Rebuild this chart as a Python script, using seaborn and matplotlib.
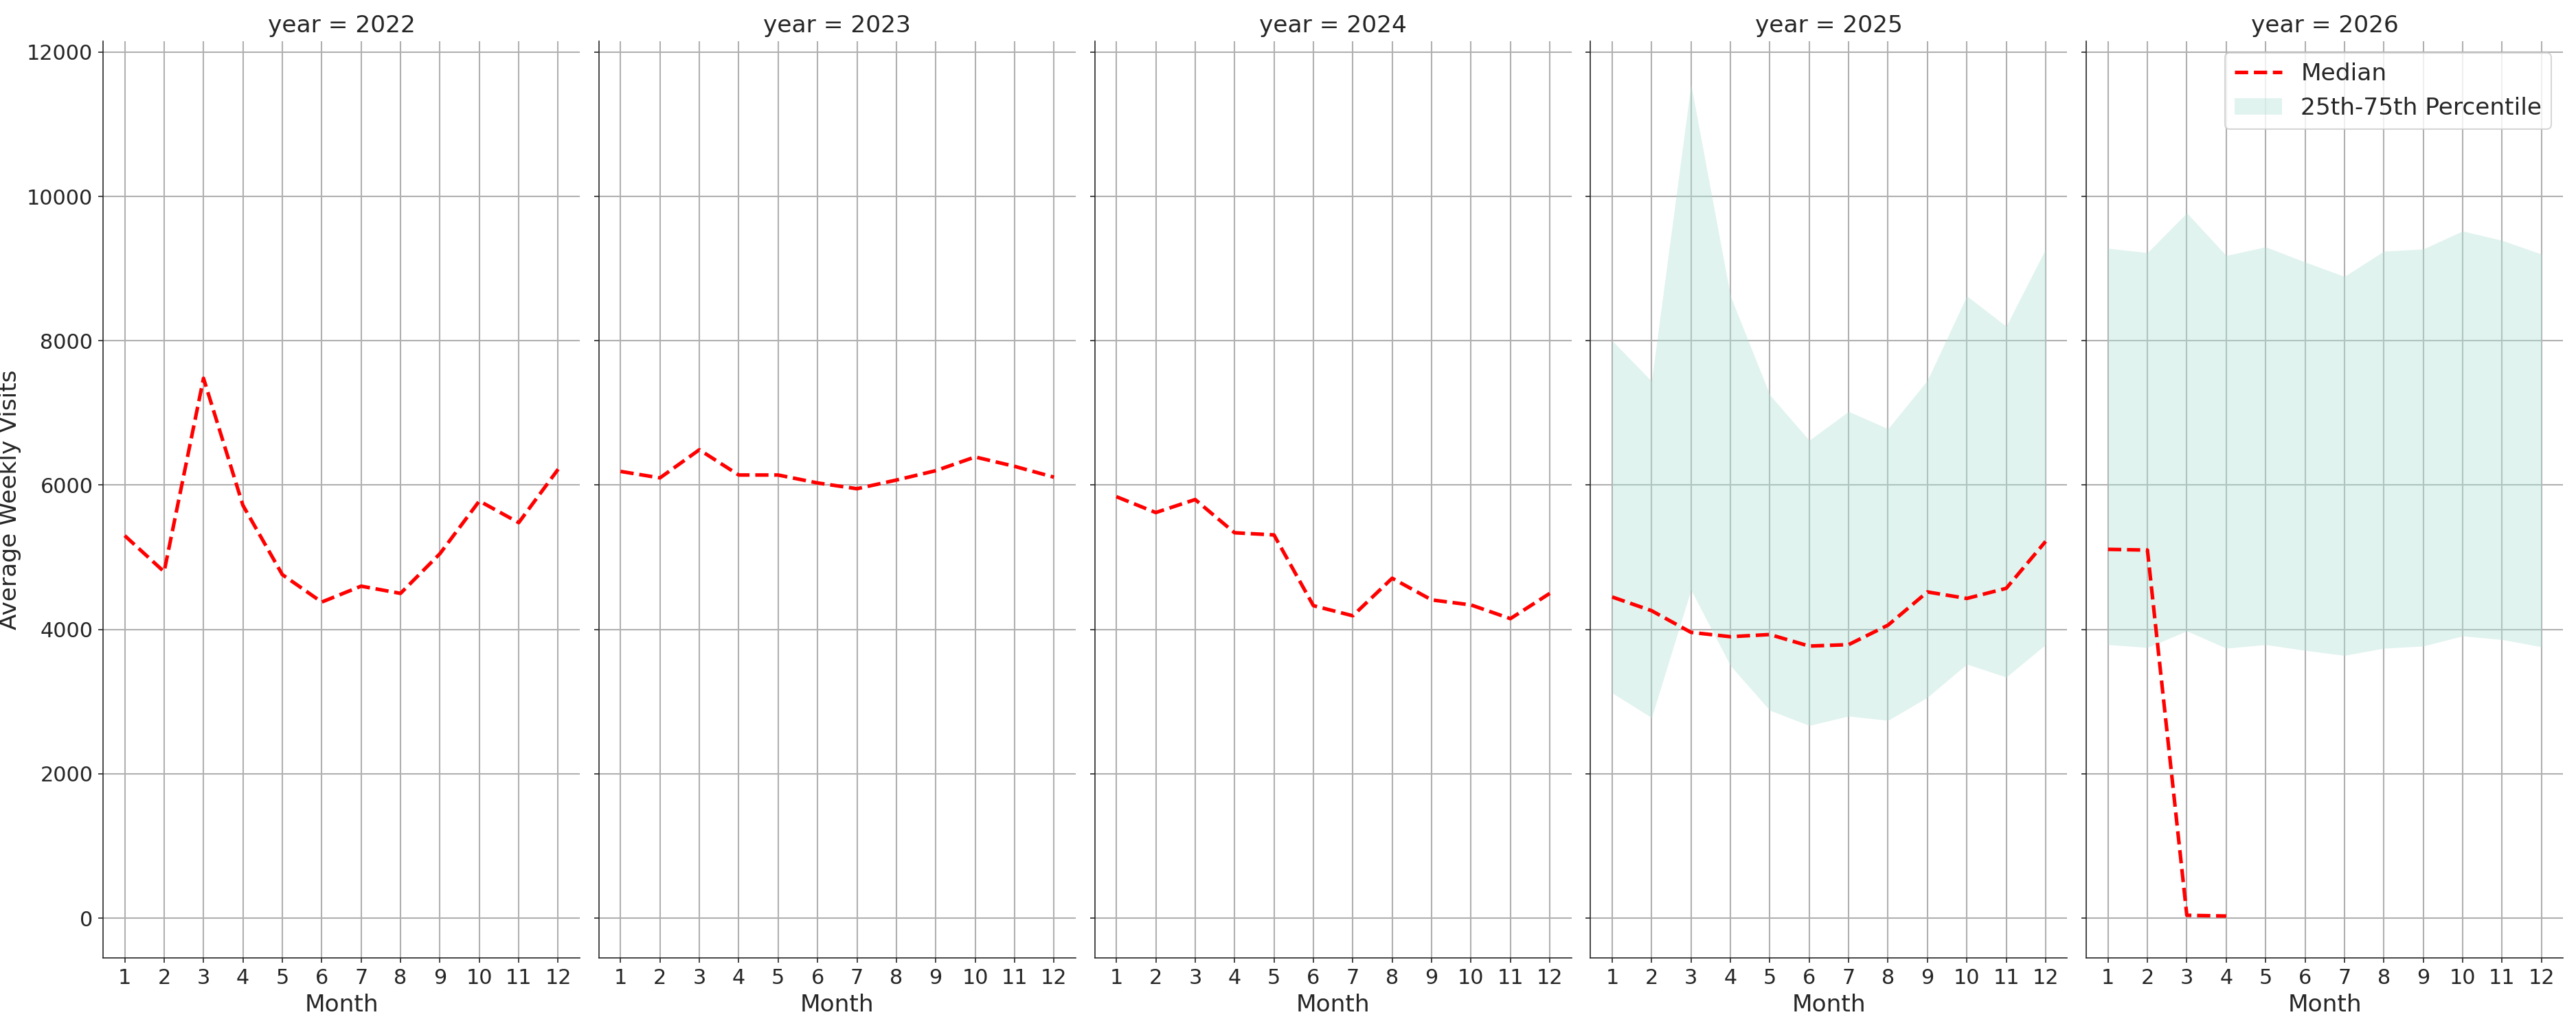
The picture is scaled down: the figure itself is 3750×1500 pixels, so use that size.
import matplotlib
matplotlib.use("Agg")
import matplotlib.pyplot as plt
import seaborn as sns
import numpy as np

months = list(range(1, 13))
years = [2022, 2023, 2024, 2025, 2026]
median = {
    2022: [5300, 4800, 7480, 5720, 4760, 4380, 4600, 4500, 5050, 5780, 5480, 6220],
    2023: [6190, 6100, 6490, 6140, 6140, 6030, 5950, 6070, 6200, 6390, 6260, 6110],
    2024: [5840, 5620, 5800, 5340, 5310, 4330, 4190, 4710, 4410, 4340, 4150, 4500],
    2025: [4450, 4260, 3960, 3900, 3930, 3770, 3790, 4060, 4520, 4430, 4570, 5220],
    2026: [5110, 5100, 40, 30],
}
p75 = {
    2025: [8000, 7440, 11550, 8620, 7250, 6620, 7020, 6780, 7450, 8620, 8200, 9270],
    2026: [9280, 9220, 9770, 9180, 9300, 9090, 8890, 9240, 9270, 9520, 9390, 9200],
}
p25 = {
    2025: [3120, 2780, 4550, 3500, 2880, 2670, 2800, 2740, 3060, 3520, 3340, 3790],
    2026: [3790, 3750, 3980, 3740, 3790, 3710, 3640, 3740, 3770, 3910, 3860, 3760],
}

sns.set_style("ticks")
fig, axes = plt.subplots(1, 5, figsize=(25, 10), dpi=150, sharey=True)
for ax, y in zip(axes, years):
    if y in p75:
        ax.fill_between(months, p25[y], p75[y], color="#b2e2d6", alpha=0.4,
                        linewidth=0, label="25th-75th Percentile")
    med = median[y]
    sns.lineplot(x=months[:len(med)], y=med, ax=ax, color="red", linestyle="--",
                 linewidth=2.5, label="Median")
    ax.set_title(f"year = {y}", fontsize=16.5)
    ax.set_xlabel("Month", fontsize=16.5)
    ax.set_xticks(months)
    ax.set_xlim(0.45, 12.55)
    ax.set_ylim(-550, 12150)
    ax.grid(True, color="#b0b0b0", linewidth=1)
    ax.tick_params(labelsize=14.5)
    for s in ["top", "right"]:
        ax.spines[s].set_visible(False)
    if y != 2026:
        ax.get_legend().remove()
axes[0].set_ylabel("Average Weekly Visits", fontsize=16.5)
h, l = axes[4].get_legend_handles_labels()
order = [l.index("Median"), l.index("25th-75th Percentile")]
axes[4].legend([h[i] for i in order], [l[i] for i in order], loc="upper right", fontsize=16.5)
fig.subplots_adjust(left=0.04, right=0.995, bottom=0.07, top=0.96, wspace=0.04)
fig.savefig("out.png")
